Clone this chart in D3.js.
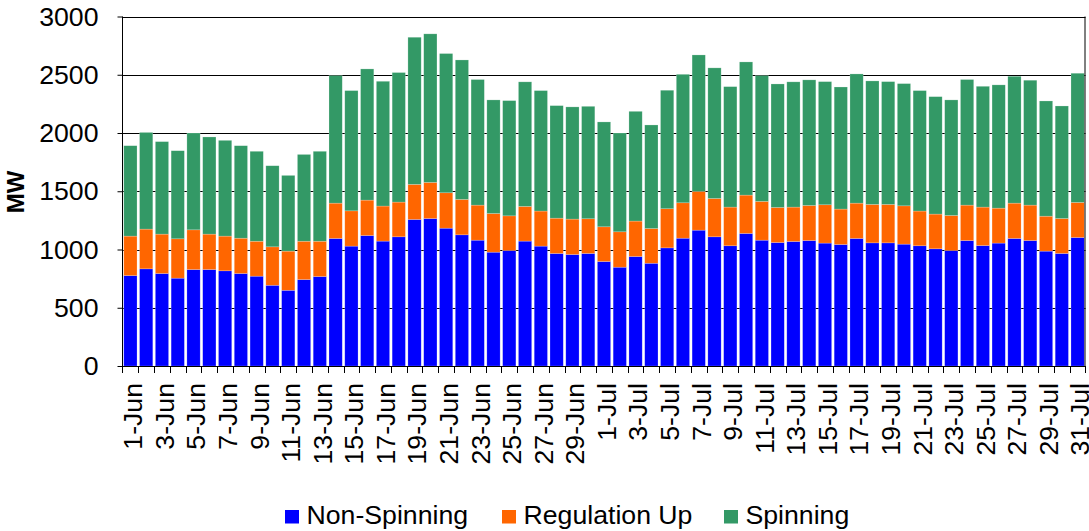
<!DOCTYPE html>
<html>
<head>
<meta charset="utf-8">
<script src="https://cdn.jsdelivr.net/npm/d3@7"></script>
<style>
  html, body { margin: 0; padding: 0; background: #fff; }
  svg { display: block; font-family: "Liberation Sans", Arial, sans-serif; }
</style>
</head>
<body>
<svg id="chart" width="1089" height="531"></svg>
<script>
// Daily ancillary service procurement, June–July
const days = [
  "1-Jun","2-Jun","3-Jun","4-Jun","5-Jun","6-Jun","7-Jun","8-Jun","9-Jun","10-Jun",
  "11-Jun","12-Jun","13-Jun","14-Jun","15-Jun","16-Jun","17-Jun","18-Jun","19-Jun","20-Jun",
  "21-Jun","22-Jun","23-Jun","24-Jun","25-Jun","26-Jun","27-Jun","28-Jun","29-Jun","30-Jun",
  "1-Jul","2-Jul","3-Jul","4-Jul","5-Jul","6-Jul","7-Jul","8-Jul","9-Jul","10-Jul",
  "11-Jul","12-Jul","13-Jul","14-Jul","15-Jul","16-Jul","17-Jul","18-Jul","19-Jul","20-Jul",
  "21-Jul","22-Jul","23-Jul","24-Jul","25-Jul","26-Jul","27-Jul","28-Jul","29-Jul","30-Jul","31-Jul"
];

const nonSpinning = [
  776, 834, 794, 754, 828, 828, 817, 794, 771, 693,
  650, 742, 768, 1095, 1029, 1120, 1072, 1109, 1258, 1266,
  1183, 1126, 1080, 977, 991, 1072, 1029, 966, 957, 966,
  897, 848, 940, 882, 1014, 1097, 1166, 1109, 1032, 1138,
  1080, 1060, 1069, 1077, 1055, 1043, 1095, 1057, 1057, 1046,
  1032, 1006, 991, 1077, 1034, 1055, 1095, 1077, 986, 966, 1103
];

const regulationUp = [
  339, 341, 338, 338, 341, 304, 298, 303, 300, 330,
  336, 329, 303, 303, 303, 304, 301, 298, 301, 310,
  304, 304, 301, 332, 298, 298, 301, 303, 304, 298,
  298, 304, 304, 298, 336, 304, 333, 329, 332, 329,
  333, 301, 295, 301, 329, 304, 303, 330, 330, 329,
  298, 298, 301, 304, 330, 300, 303, 304, 300, 300, 301
];

const spinning = [
  776, 830, 794, 756, 831, 834, 822, 794, 772, 696,
  650, 745, 772, 1095, 1032, 1126, 1071, 1112, 1263, 1275,
  1195, 1197, 1078, 975, 989, 1069, 1034, 966, 963, 965,
  900, 848, 942, 889, 1017, 1103, 1171, 1121, 1034, 1143,
  1080, 1060, 1075, 1078, 1057, 1048, 1109, 1060, 1054, 1049,
  1034, 1008, 992, 1078, 1037, 1058, 1089, 1072, 989, 966, 1109
];

const seriesNames = ["Non-Spinning", "Regulation Up", "Spinning"];
const seriesColors = ["#0000FF", "#FF6600", "#339966"];
const yTicks = [0, 500, 1000, 1500, 2000, 2500, 3000];
const yLabel = "MW";

const rows = days.map((d, i) => ({
  day: d,
  "Non-Spinning": nonSpinning[i],
  "Regulation Up": regulationUp[i],
  "Spinning": spinning[i]
}));

const svg = d3.select("#chart");
const plotLeft = 122.5, plotRight = 1085.5, plotTop = 16.5, plotBottom = 366;
const fontSize = 26.67;

const x = d3.scaleBand().domain(days).range([plotLeft, plotRight])
  .paddingInner(0.16).paddingOuter(0.08);
const y = d3.scaleLinear().domain([0, 3000]).range([plotBottom, plotTop]);

const stacked = d3.stack().keys(seriesNames)(rows);
const color = d3.scaleOrdinal().domain(seriesNames).range(seriesColors);

// Horizontal gridlines behind the bars
svg.append("g")
  .selectAll("line")
  .data(yTicks.filter(t => t > 0))
  .join("line")
  .attr("x1", plotLeft).attr("x2", plotRight)
  .attr("y1", d => Math.round(y(d)) + 0.5).attr("y2", d => Math.round(y(d)) + 0.5)
  .attr("stroke", "#000").attr("stroke-width", 1);

// Stacked bars
svg.append("g")
  .selectAll("g")
  .data(stacked)
  .join("g")
  .attr("fill", d => color(d.key))
  .selectAll("rect")
  .data(d => d)
  .join("rect")
  .attr("x", d => x(d.data.day))
  .attr("width", x.bandwidth())
  .attr("y", d => y(d[1]))
  .attr("height", d => y(d[0]) - y(d[1]))
  .attr("stroke", "rgba(255,255,255,0.35)")
  .attr("stroke-width", 0.6);

// Plot frame: left axis and right edge
svg.append("line").attr("x1", plotLeft).attr("x2", plotLeft).attr("y1", plotTop).attr("y2", plotBottom)
  .attr("stroke", "#000");
svg.append("line").attr("x1", plotRight - 0.5).attr("x2", plotRight - 0.5).attr("y1", plotTop).attr("y2", plotBottom)
  .attr("stroke", "#000");

// Y axis
const yAxis = svg.append("g")
  .attr("transform", `translate(${plotLeft},0)`)
  .call(d3.axisLeft(y).tickValues(yTicks).tickFormat(d3.format("d")).tickSize(5).tickPadding(19));
yAxis.select(".domain").remove();
yAxis.selectAll("line").attr("stroke", "#000");
yAxis.selectAll("text")
  .attr("font-size", fontSize)
  .attr("font-family", "'Liberation Sans', Arial, sans-serif")
  .attr("fill", "#000");

// X axis: ticks at category boundaries
const boundaries = days.map(d => x(d) - x.step() * x.paddingInner() / 2)
  .concat([plotRight - 0.5]);
svg.append("line").attr("x1", plotLeft).attr("x2", plotRight).attr("y1", plotBottom + 0.5).attr("y2", plotBottom + 0.5)
  .attr("stroke", "#000");
svg.append("g")
  .selectAll("line")
  .data(boundaries)
  .join("line")
  .attr("x1", d => Math.round(d) + 0.5).attr("x2", d => Math.round(d) + 0.5)
  .attr("y1", plotBottom).attr("y2", plotBottom + 7)
  .attr("stroke", "#000");

// Every other date label, rotated
svg.append("g")
  .selectAll("text")
  .data(days.filter((d, i) => i % 2 === 0))
  .join("text")
  .attr("transform", d => `translate(${x(d) + x.bandwidth() / 2 + 2.5},${plotBottom + 17}) rotate(-90)`)
  .attr("text-anchor", "end")
  .attr("dy", "0.35em")
  .attr("font-size", fontSize)
  .attr("fill", "#000")
  .text(d => d);

// Y axis title
svg.append("text")
  .attr("transform", `translate(24,192) rotate(-90)`)
  .attr("text-anchor", "middle")
  .attr("font-size", 24)
  .attr("font-weight", "bold")
  .attr("fill", "#000")
  .text(yLabel);

// Legend
const legendX = [285, 502, 724];
const legend = svg.append("g")
  .selectAll("g")
  .data(seriesNames)
  .join("g")
  .attr("transform", (d, i) => `translate(${legendX[i]},510)`);
legend.append("rect")
  .attr("width", 14).attr("height", 13.5)
  .attr("fill", d => color(d));
legend.append("text")
  .attr("x", 21.5).attr("y", 14)
  .attr("font-size", fontSize)
  .attr("fill", "#000")
  .text(d => d);
</script>
</body>
</html>
